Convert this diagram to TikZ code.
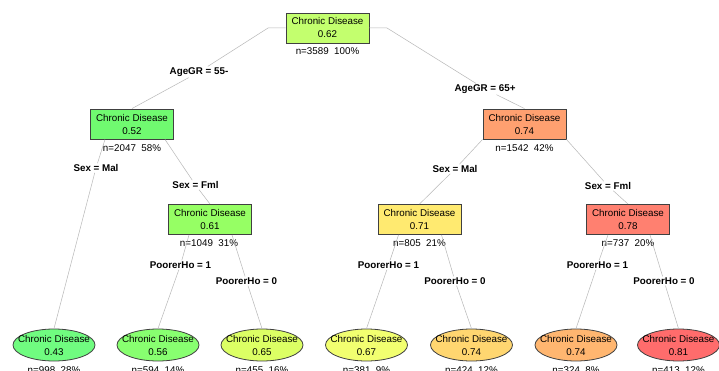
\documentclass[tikz,border=0pt]{standalone}
\usepackage{fontspec}
\setmainfont{Liberation Sans}
\usetikzlibrary{shapes.geometric}
\definecolor{cRoot}{RGB}{195,255,110}
\definecolor{cA}{RGB}{112,250,112}
\definecolor{cC}{RGB}{255,160,112}
\definecolor{cB}{RGB}{150,255,100}
\definecolor{cD}{RGB}{255,234,112}
\definecolor{cE}{RGB}{255,128,112}
\definecolor{cL1}{RGB}{112,252,128}
\definecolor{cL2}{RGB}{136,255,112}
\definecolor{cL3}{RGB}{220,255,100}
\definecolor{cL4}{RGB}{242,255,112}
\definecolor{cL5}{RGB}{255,214,112}
\definecolor{cL6}{RGB}{255,182,112}
\definecolor{cL7}{RGB}{255,108,108}
\tikzset{
  nodebox/.style={draw=black!75, line width=0.9pt, minimum width=83pt, minimum height=30pt,
    inner sep=0pt, align=center, font=\fontsize{9.8}{13}\selectfont},
  leafell/.style={ellipse, draw=black!75, line width=0.8pt, minimum width=82pt, minimum height=32pt, inner sep=0pt},
  leaftext/.style={align=center, inner sep=0pt, font=\fontsize{9.8}{13}\selectfont},
  ntext/.style={inner sep=0pt, font=\fontsize{9.8}{12}\selectfont},
  splitlab/.style={fill=white, inner sep=1pt, font=\bfseries\fontsize{9.8}{12}\selectfont},
  branch/.style={draw=black!28, line width=0.5pt},
}
\begin{document}
\begin{tikzpicture}[x=1pt,y=-1pt]
\useasboundingbox[fill=white] (0,0) rectangle (719,371);
% internal nodes
\node[nodebox, fill=cRoot] (root) at (327.5,28) {Chronic Disease\\0.62};
\node[ntext] (nroot) at (327.5,51) {n=3589\ \ 100\%};
\node[nodebox, fill=cA] (A) at (132,124) {Chronic Disease\\0.52};
\node[ntext] (nA) at (132,148) {n=2047\ \ 58\%};
\node[nodebox, fill=cC] (C) at (524.5,124) {Chronic Disease\\0.74};
\node[ntext] (nC) at (524.5,148) {n=1542\ \ 42\%};
\node[nodebox, fill=cB] (B) at (210,219.5) {Chronic Disease\\0.61};
\node[ntext] (nB) at (209,243) {n=1049\ \ 31\%};
\node[nodebox, fill=cD] (D) at (419.5,219.5) {Chronic Disease\\0.71};
\node[ntext] (nD) at (419.5,243) {n=805\ \ 21\%};
\node[nodebox, fill=cE] (E) at (628,219.5) {Chronic Disease\\0.78};
\node[ntext] (nE) at (628,243) {n=737\ \ 20\%};
% leaves
\node[leafell, fill=cL1] (l1) at (54,345) {};
\node[leaftext] (l1t) at (l1) {Chronic Disease\\0.43};
\node[ntext] (nl1) at (54,370) {n=998\ \ 28\%};
\node[leafell, fill=cL2] (l2) at (158,345) {};
\node[leaftext] (l2t) at (l2) {Chronic Disease\\0.56};
\node[ntext] (nl2) at (158,370) {n=594\ \ 14\%};
\node[leafell, fill=cL3] (l3) at (262,345) {};
\node[leaftext] (l3t) at (l3) {Chronic Disease\\0.65};
\node[ntext] (nl3) at (262,370) {n=455\ \ 16\%};
\node[leafell, fill=cL4] (l4) at (366.5,345) {};
\node[leaftext] (l4t) at (l4) {Chronic Disease\\0.67};
\node[ntext] (nl4) at (366.5,370) {n=381\ \ 9\%};
\node[leafell, fill=cL5] (l5) at (471.5,345) {};
\node[leaftext] (l5t) at (l5) {Chronic Disease\\0.74};
\node[ntext] (nl5) at (471.5,370) {n=424\ \ 12\%};
\node[leafell, fill=cL6] (l6) at (576,345) {};
\node[leaftext] (l6t) at (l6) {Chronic Disease\\0.74};
\node[ntext] (nl6) at (576,370) {n=324\ \ 8\%};
\node[leafell, fill=cL7] (l7) at (678.5,345) {};
\node[leaftext] (l7t) at (l7) {Chronic Disease\\0.81};
\node[ntext] (nl7) at (678.5,370) {n=413\ \ 12\%};
% split labels
\node[splitlab] (sA) at (199,72) {AgeGR = 55-};
\node[splitlab] (sC) at (485,89) {AgeGR = 65+};
\node[splitlab] (sAl) at (96,168) {Sex = Mal};
\node[splitlab] (sAr) at (195.5,185) {Sex = Fml};
\node[splitlab] (sCl) at (455,169) {Sex = Mal};
\node[splitlab] (sCr) at (608,186) {Sex = Fml};
\node[splitlab] (sBl) at (180.5,265) {PoorerHo = 1};
\node[splitlab] (sBr) at (246.5,281) {PoorerHo = 0};
\node[splitlab] (sDl) at (388.5,265) {PoorerHo = 1};
\node[splitlab] (sDr) at (455,281) {PoorerHo = 0};
\node[splitlab] (sEl) at (597.5,265) {PoorerHo = 1};
\node[splitlab] (sEr) at (664,281) {PoorerHo = 0};
% branch corners
\coordinate (rL) at (268,28);
\coordinate (rR) at (387,28);
% branches
\draw[branch] (root.west) -- (rL) -- (sA) -- (A.north);
\draw[branch] (root.east) -- (rR) -- (sC) -- (C.north);
\draw[branch] ([xshift=-27pt]A.south) -- (sAl) -- (l1.north);
\draw[branch] ([xshift=33pt]A.south) -- (sAr) -- (B.north);
\draw[branch] (C.south west) -- (sCl) -- (D.north);
\draw[branch] (C.south east) -- (sCr) -- (E.north);
\draw[branch] ([xshift=-21pt]B.south) -- (sBl) -- (l2.north);
\draw[branch] ([xshift=22pt]B.south) -- (sBr) -- (l3.north);
\draw[branch] ([xshift=-21pt]D.south) -- (sDl) -- (l4.north);
\draw[branch] ([xshift=22pt]D.south) -- (sDr) -- (l5.north);
\draw[branch] ([xshift=-20pt]E.south) -- (sEl) -- (l6.north);
\draw[branch] ([xshift=22pt]E.south) -- (sEr) -- (l7.north);
\end{tikzpicture}
\end{document}
